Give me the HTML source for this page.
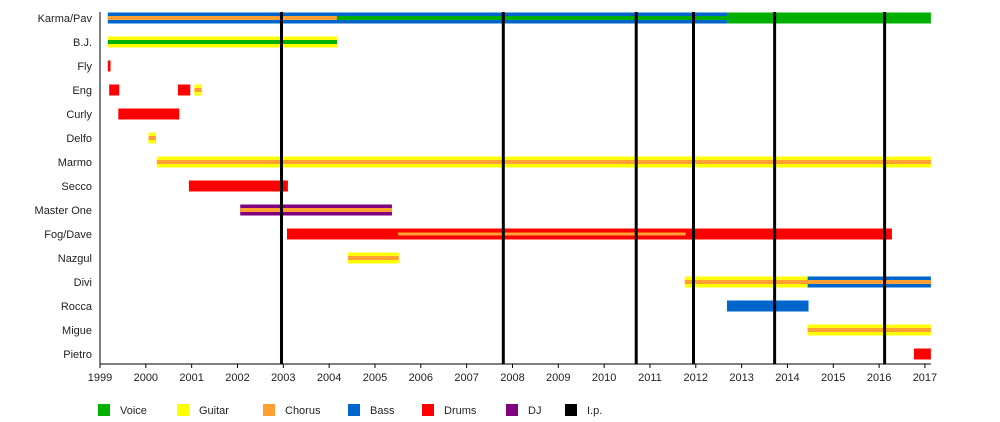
<!DOCTYPE html>
<html><head><meta charset="utf-8"><style>
body{margin:0;background:#fff;}
svg{display:block;font-family:"Liberation Sans",sans-serif;}
</style></head><body>
<svg id="chart" width="1000" height="422" viewBox="0 0 1000 422" xmlns="http://www.w3.org/2000/svg"></svg>
<script>
const members = ["Karma/Pav","B.J.","Fly","Eng","Curly","Delfo","Marmo","Secco","Master One","Fog/Dave","Nazgul","Divi","Rocca","Migue","Pietro"];
const tickYears = [1999,2000,2001,2002,2003,2004,2005,2006,2007,2008,2009,2010,2011,2012,2013,2014,2015,2016,2017];
// [memberIndex, start, end, outerRole, innerRole]
const periods = [
 [0,1999.17,2004.17,"Bass","Chorus"],
 [0,2004.17,2012.68,"Bass","Voice"],
 [0,2012.68,2017.13,"Voice",null],
 [1,1999.17,2004.17,"Guitar","Voice"],
 [2,1999.17,1999.23,"Drums",null],
 [3,1999.2,1999.42,"Drums",null],
 [3,2000.7,2000.97,"Drums",null],
 [3,2001.06,2001.22,"Guitar","Chorus"],
 [4,1999.4,2000.73,"Drums",null],
 [5,2000.06,2000.22,"Guitar","Chorus"],
 [6,2000.24,2017.13,"Guitar","Chorus"],
 [7,2000.94,2003.1,"Drums",null],
 [8,2002.06,2005.37,"DJ","Chorus"],
 [9,2003.08,2016.28,"Drums",null],
 [9,2005.5,2011.78,null,"Chorus"],
 [10,2004.41,2005.52,"Guitar","Chorus"],
 [11,2011.76,2014.44,"Guitar","Chorus"],
 [11,2014.44,2017.13,"Bass","Chorus"],
 [12,2012.68,2014.46,"Bass",null],
 [13,2014.44,2017.13,"Guitar","Chorus"],
 [14,2016.76,2017.13,"Drums",null]
];
const lpDates = [2002.96,2007.8,2010.7,2011.95,2013.72,2016.12];
const roles = ["Voice","Guitar","Chorus","Bass","Drums","DJ","I.p."];
const roleColors = {"Voice":"#00b000","Guitar":"#ffff00","Chorus":"#ffa030","Bass":"#0066cc","Drums":"#ff0000","DJ":"#800080","I.p.":"#000000"};

const NS="http://www.w3.org/2000/svg";
const svg=document.getElementById("chart");
const x0=100, xPerYear=45.83, yTop0=18, rowH=24, axisY=364;
const xs=v=>x0+(v-1999)*xPerYear;
const ys=i=>yTop0+i*rowH;
function mk(tag,attrs){const e=document.createElementNS(NS,tag);for(const k in attrs)e.setAttribute(k,attrs[k]);svg.appendChild(e);return e;}

// member labels
members.forEach((m,i)=>{
 const t=mk("text",{x:92,y:ys(i)+4,"text-anchor":"end","font-size":"11",fill:"#222"});
 
 
 t.textContent=m;
});
// bars
periods.forEach(p=>{
 const [i,s,e,outer,inner]=p;
 const x=xs(s), w=Math.max(2,xs(e)-xs(s)), cy=ys(i);
 if(outer){
  const r=mk("rect",{x:x,y:cy-5.5,width:w,height:11,fill:roleColors[outer]});
  
  
 }
 if(inner){
  const r=mk("rect",{x:x,y:cy-(outer?2:1.5),width:w,height:outer?4:3,fill:roleColors[inner]});
  
  
 }
});
// lp lines
lpDates.forEach(d=>{
 const l=mk("rect",{x:xs(d)-1.5,y:12,width:3,height:axisY-12,fill:"#000"});
 
 
});
// axes
const ya=mk("line",{x1:x0,y1:12,x2:x0,y2:axisY,stroke:"#000","stroke-width":1});


const xa=mk("line",{x1:x0,y1:axisY,x2:xs(2017.13),y2:axisY,stroke:"#000","stroke-width":1});


tickYears.forEach(y=>{
 const tk=mk("line",{x1:xs(y),y1:axisY,x2:xs(y),y2:axisY+4,stroke:"#000"});
 
 
 const t=mk("text",{x:xs(y),y:axisY+17,"text-anchor":"middle","font-size":"11",fill:"#222"});
 
 
 t.textContent=y;
});
// legend
const legX=[98,177,263,348,422,506,565];
roles.forEach((r,k)=>{
 const sq=mk("rect",{x:legX[k],y:404,width:12,height:12,fill:roleColors[r]});
 
 
 const t=mk("text",{x:legX[k]+22,y:414,"font-size":"11",fill:"#222"});
 
 
 t.textContent=r;
});
</script>
</body></html>
